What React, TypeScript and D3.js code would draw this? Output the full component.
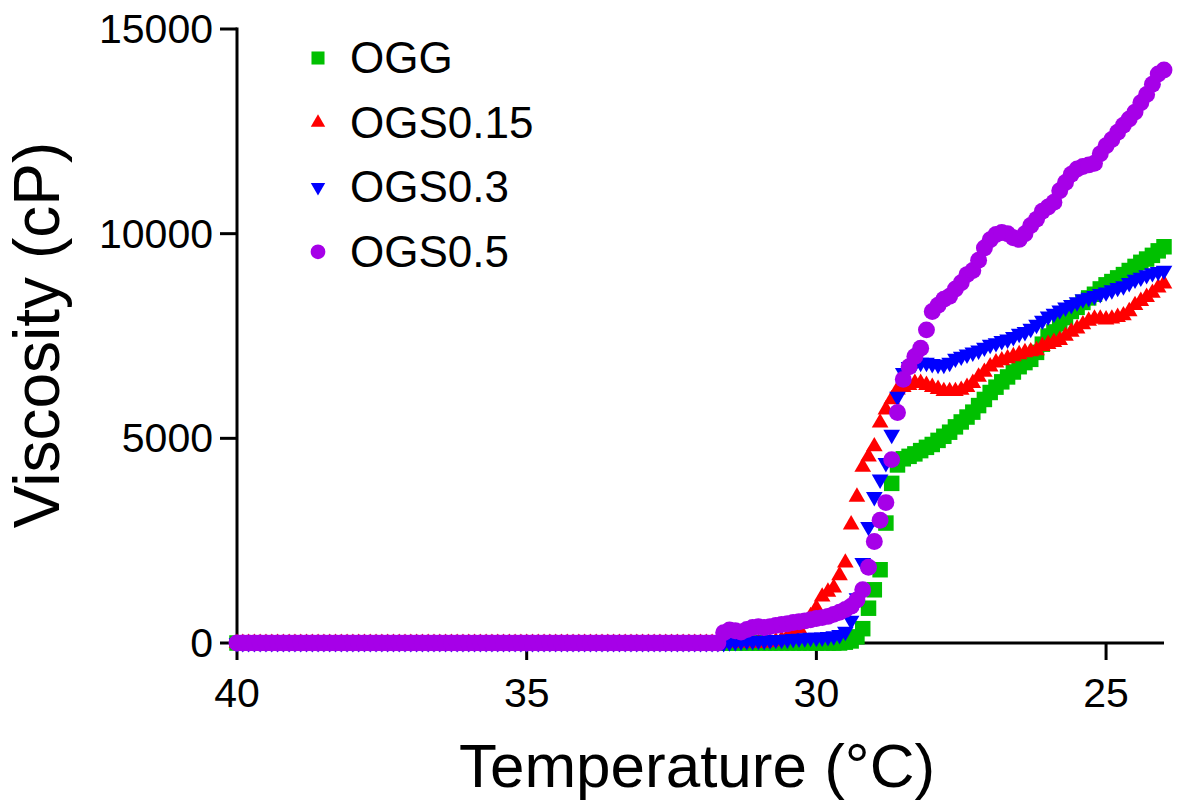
import * as d3 from "d3";

// temperature grid of the readings, 40.0 down to 24.0 in 0.1 °C steps
const temperatures = d3.range(400, 239, -1).map((d) => d / 10);

// viscosity (cP) per temperature
const ogg = [
  0, 0, 0, 0, 0, 0, 0, 0, 0, 0,
  0, 0, 0, 0, 0, 0, 0, 0, 0, 0,
  0, 0, 0, 0, 0, 0, 0, 0, 0, 0,
  0, 0, 0, 0, 0, 0, 0, 0, 0, 0,
  0, 0, 0, 0, 0, 0, 0, 0, 0, 0,
  0, 0, 0, 0, 0, 0, 0, 0, 0, 0,
  0, 0, 0, 0, 0, 0, 0, 0, 0, 0,
  0, 0, 0, 0, 0, 0, 0, 0, 0, 0,
  0, 0, 0, 0, 0, 0, 0, 0, 0, 0,
  0, 0, 0, 0, 0, 0, 0, 0, 0, 0,
  0, 0, 0, 0, 0, 20, 50, 150, 350, 850,
  1300, 1790, 2930, 3900, 4350, 4500, 4560, 4620, 4700, 4780,
  4850, 4950, 5050, 5150, 5280, 5400, 5520, 5640, 5800, 5950,
  6120, 6250, 6380, 6500, 6620, 6750, 6850, 6930, 7100, 7300,
  7500, 7600, 7800, 7950, 8100, 8200, 8320, 8430, 8520, 8650,
  8750, 8830, 8920, 9000, 9100, 9200, 9300, 9380, 9470, 9580,
  9680,
];

const ogs015 = [
  0, 0, 0, 0, 0, 0, 0, 0, 0, 0,
  0, 0, 0, 0, 0, 0, 0, 0, 0, 0,
  0, 0, 0, 0, 0, 0, 0, 0, 0, 0,
  0, 0, 0, 0, 0, 0, 0, 0, 0, 0,
  0, 0, 0, 0, 0, 0, 0, 0, 0, 0,
  0, 0, 0, 0, 0, 0, 0, 0, 0, 0,
  0, 0, 0, 0, 0, 0, 0, 0, 0, 0,
  0, 0, 0, 0, 0, 0, 0, 0, 0, 0,
  0, 0, 0, 0, 0, 0, 0, 0, 0, 0,
  0, 0, 20, 40, 80, 150, 250, 350, 500, 650,
  850, 1130, 1250, 1350, 1650, 1960, 2890, 3570, 4300, 4550,
  4800, 5380, 5700, 5950, 6190, 6250, 6300, 6350, 6350, 6300,
  6250, 6200, 6150, 6150, 6150, 6180, 6250, 6350, 6500, 6620,
  6750, 6850, 6900, 6950, 7000, 7050, 7100, 7120, 7150, 7250,
  7300, 7350, 7400, 7500, 7600, 7680, 7780, 7870, 7920, 7920,
  7900, 7920, 7960, 8000, 8100, 8250, 8350, 8450, 8550, 8680,
  8780,
];

const ogs03 = [
  0, 0, 0, 0, 0, 0, 0, 0, 0, 0,
  0, 0, 0, 0, 0, 0, 0, 0, 0, 0,
  0, 0, 0, 0, 0, 0, 0, 0, 0, 0,
  0, 0, 0, 0, 0, 0, 0, 0, 0, 0,
  0, 0, 0, 0, 0, 0, 0, 0, 0, 0,
  0, 0, 0, 0, 0, 0, 0, 0, 0, 0,
  0, 0, 0, 0, 0, 0, 0, 0, 0, 0,
  0, 0, 0, 0, 0, 0, 0, 0, 0, 0,
  0, 0, 0, 0, 0, 20, 30, 40, 50, 50,
  60, 60, 70, 80, 80, 90, 100, 110, 120, 130,
  130, 140, 150, 170, 200, 280, 550, 1100, 1960, 2840,
  3570, 4000, 4400, 5090, 6020, 6600, 6750, 6820, 6850, 6850,
  6820, 6800, 6800, 6850, 6950, 7000, 7050, 7100, 7150, 7220,
  7290, 7330, 7380, 7420, 7480, 7560, 7600, 7680, 7780, 7880,
  7980, 8050, 8130, 8200, 8260, 8330, 8400, 8440, 8480, 8530,
  8570, 8620, 8680, 8720, 8800, 8880, 8930, 8990, 9040, 9070,
  9100,
];

const ogs05 = [
  0, 0, 0, 0, 0, 0, 0, 0, 0, 0,
  0, 0, 0, 0, 0, 0, 0, 0, 0, 0,
  0, 0, 0, 0, 0, 0, 0, 0, 0, 0,
  0, 0, 0, 0, 0, 0, 0, 0, 0, 0,
  0, 0, 0, 0, 0, 0, 0, 0, 0, 0,
  0, 0, 0, 0, 0, 0, 0, 0, 0, 0,
  0, 0, 0, 0, 0, 0, 0, 0, 0, 0,
  0, 0, 0, 0, 0, 0, 0, 0, 0, 0,
  0, 0, 0, 0, 250, 320, 300, 270, 330, 380,
  400, 380, 400, 430, 450, 470, 500, 520, 540, 570,
  600, 620, 650, 700, 750, 820, 900, 1050, 1300, 1850,
  2480, 3000, 3430, 4480, 5630, 6440, 6750, 7000, 7200, 7650,
  8100, 8250, 8400, 8470, 8650, 8800, 9000, 9100, 9350, 9650,
  9850, 9980, 10030, 10000, 9900, 9860, 10000, 10200, 10350, 10550,
  10650, 10770, 11050, 11250, 11450, 11580, 11640, 11680, 11720, 11950,
  12150, 12300, 12480, 12650, 12800, 12970, 13200, 13400, 13650, 13900,
  14000,
];

const seriesNames = ["OGG", "OGS0.15", "OGS0.3", "OGS0.5"];
const seriesValues = [ogg, ogs015, ogs03, ogs05];
const seriesColors = ["#00c000", "#ff0000", "#0000ff", "#a600e8"];

const xTicks = [40, 35, 30, 25];
const yTicks = [0, 5000, 10000, 15000];

const font = "'Liberation Sans', Arial, Helvetica, sans-serif";

// marker shapes: square, up triangle, down triangle, circle
const markerPaths = [
  d3.symbol(d3.symbolSquare, 240)()!,
  d3.symbol(d3.symbolTriangle, 120)()!,
  d3.symbol(d3.symbolTriangle, 120)()!,
  d3.symbol(d3.symbolCircle, 225)()!,
];
const legendPaths = [
  d3.symbol(d3.symbolSquare, 170)()!,
  d3.symbol(d3.symbolTriangle, 90)()!,
  d3.symbol(d3.symbolTriangle, 90)()!,
  d3.symbol(d3.symbolCircle, 170)()!,
];
const markerRotate = [0, 0, 180, 0];

const App = () => {
  const width = 1181;
  const height = 812;

  const x = d3.scaleLinear().domain([40, 24]).range([237, 1164]);
  const y = d3.scaleLinear().domain([0, 15000]).range([643, 29]);

  return (
    <svg
      width={width}
      height={height}
      viewBox={`0 0 ${width} ${height}`}
      style={{ position: "absolute", left: 0, top: 0, background: "#fff" }}
      fontFamily={font}
    >
      {/* axes */}
      <line x1={x(40)} x2={x(24)} y1={y(0)} y2={y(0)} stroke="#000" strokeWidth={3} />
      <line x1={x(40)} x2={x(40)} y1={y(15000) - 1.5} y2={y(0) + 1.5} stroke="#000" strokeWidth={3} />

      {xTicks.map((t) => (
        <g key={t} transform={`translate(${x(t)},${y(0)})`}>
          <line y1={0} y2={17} stroke="#000" strokeWidth={3} />
          <text y={64} textAnchor="middle" fontSize={41} fill="#000">
            {t}
          </text>
        </g>
      ))}

      {yTicks.map((t) => (
        <g key={t} transform={`translate(${x(40)},${y(t)})`}>
          <line x1={0} x2={-17} stroke="#000" strokeWidth={3} />
          <text x={-24} y={14} textAnchor="end" fontSize={41} fill="#000">
            {t}
          </text>
        </g>
      ))}

      {/* data */}
      {seriesValues.map((vals, i) => (
        <g key={seriesNames[i]} fill={seriesColors[i]}>
          {vals.map((v, j) => (
            <path
              key={j}
              d={markerPaths[i]}
              transform={`translate(${x(temperatures[j])},${y(v)}) rotate(${markerRotate[i]})`}
            />
          ))}
        </g>
      ))}

      {/* titles */}
      <text x={697} y={787} textAnchor="middle" fontSize={62} fill="#000">
        Temperature (°C)
      </text>
      <text
        transform={`translate(59,335) rotate(-90)`}
        textAnchor="middle"
        fontSize={64}
        fill="#000"
      >
        Viscosity (cP)
      </text>

      {/* legend */}
      {seriesNames.map((name, i) => (
        <g key={name} transform={`translate(0,${73 + i * 64.6})`}>
          <path
            d={legendPaths[i]}
            fill={seriesColors[i]}
            transform={`translate(318,-15) rotate(${markerRotate[i]})`}
          />
          <text x={350} y={0} fontSize={44} fill="#000">
            {name}
          </text>
        </g>
      ))}
    </svg>
  );
};

export default App;
